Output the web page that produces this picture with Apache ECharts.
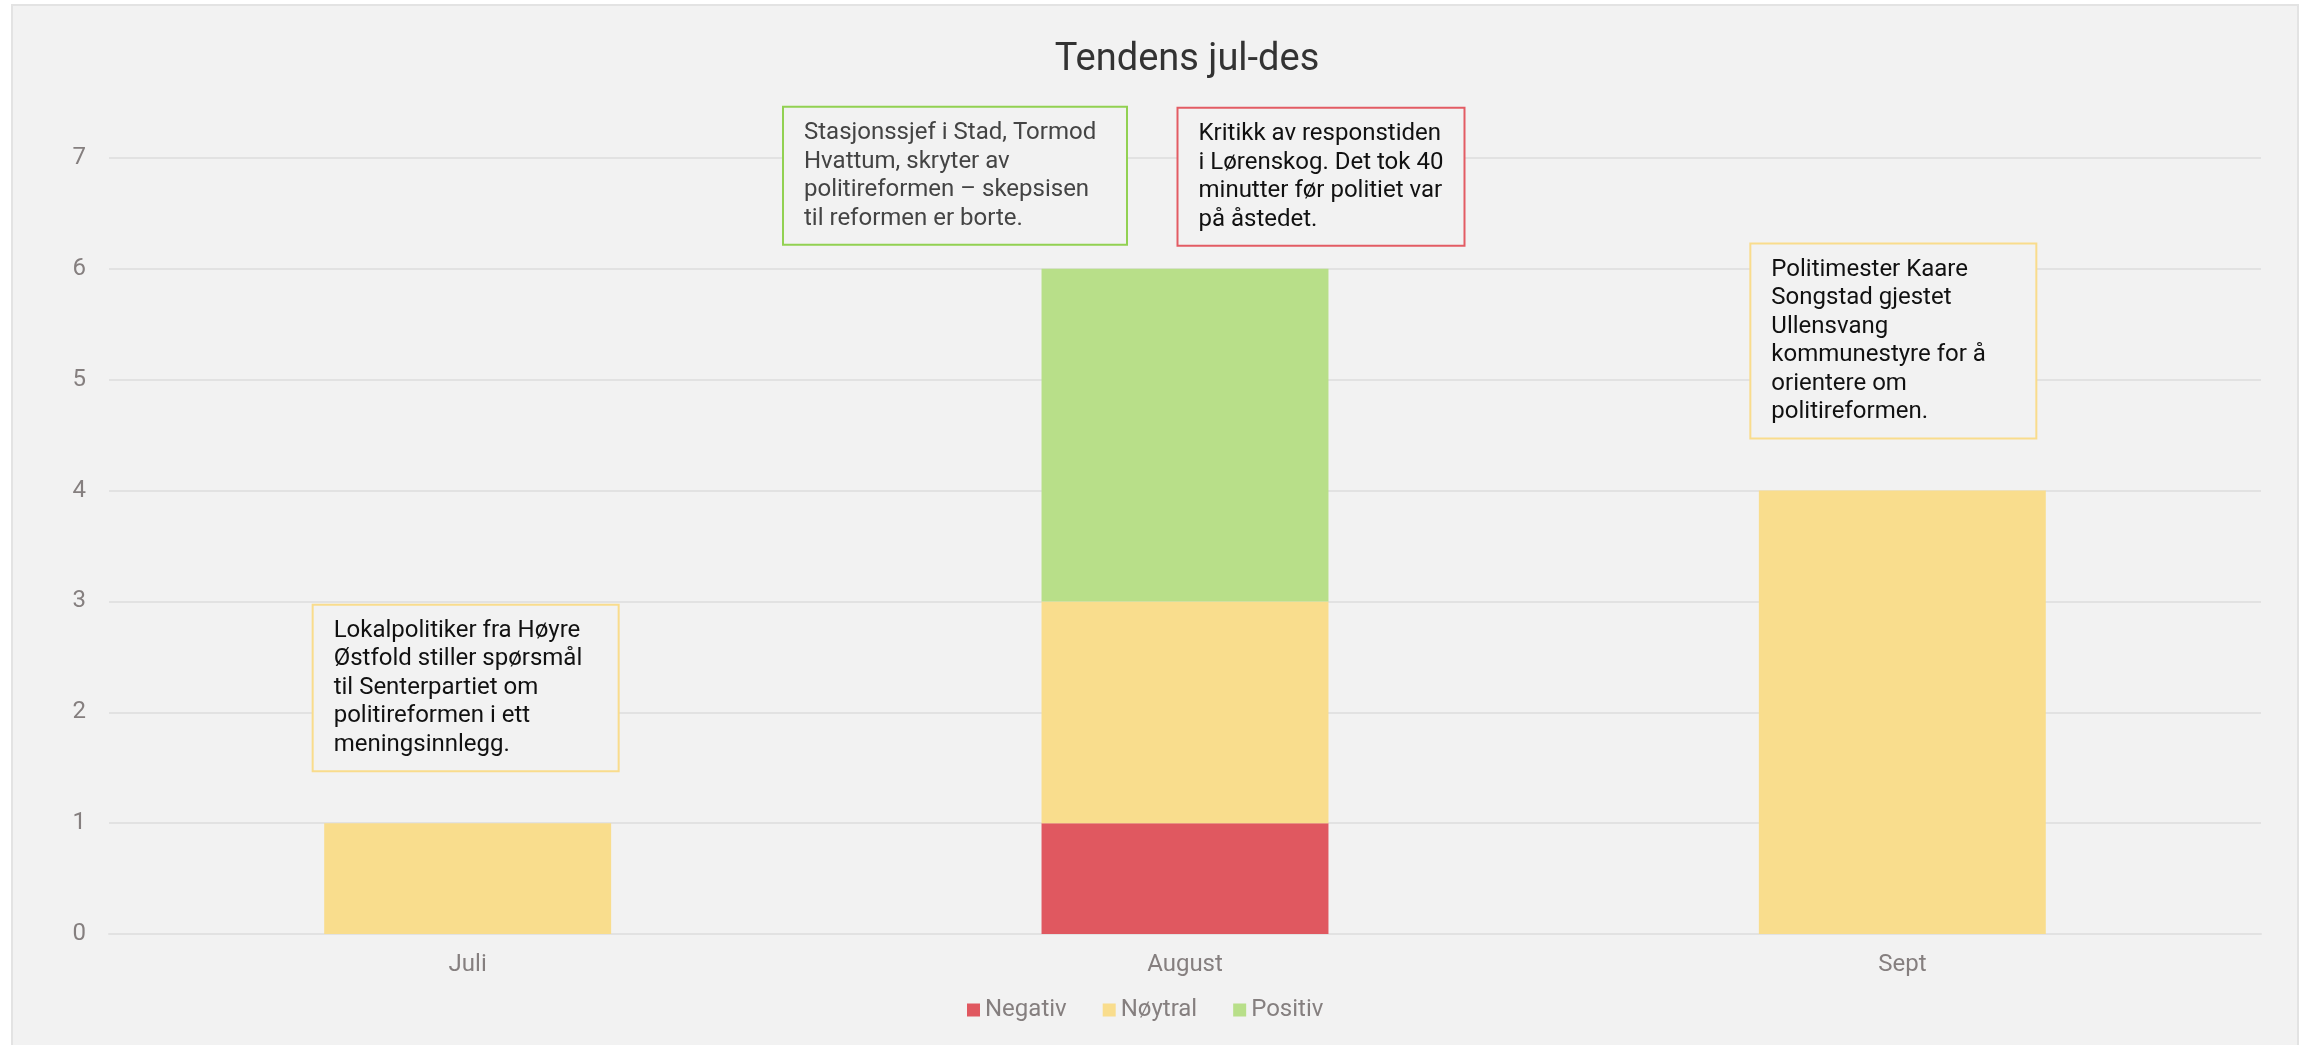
<!DOCTYPE html>
<html>
<head>
<meta charset="utf-8">
<script src="https://cdn.jsdelivr.net/npm/echarts@6/dist/echarts.min.js"></script>
<style>
  html, body { margin: 0; padding: 0; background: #fff; overflow: hidden; }
  #frame { position: absolute; left: 11px; top: 4px; width: 2288px; height: 1060px;
           background: #f2f2f2; border: 2px solid #e3e3e3; box-sizing: border-box; }
  #chart { position: absolute; left: 0; top: 0; width: 2313px; height: 1045px; }
</style>
</head>
<body>
<div id="frame"></div>
<div id="chart"></div>
<script>
// data
const categories = ['Juli', 'August', 'Sept'];
const negativ = [0, 1, 0];
const noytral = [1, 2, 4];
const positiv = [0, 3, 0];

const notes = [
  { cat: 'Juli', kind: 'noytral',
    text: 'Lokalpolitiker fra Høyre\nØstfold stiller spørsmål\ntil Senterpartiet om\npolitireformen i ett\nmeningsinnlegg.' },
  { cat: 'August', kind: 'positiv',
    text: 'Stasjonssjef i Stad, Tormod\nHvattum, skryter av\npolitireformen – skepsisen\ntil reformen er borte.' },
  { cat: 'August', kind: 'negativ',
    text: 'Kritikk av responstiden\ni Lørenskog. Det tok 40\nminutter før politiet var\npå åstedet.' },
  { cat: 'Sept', kind: 'noytral',
    text: 'Politimester Kaare\nSongstad gjestet\nUllensvang\nkommunestyre for å\norientere om\npolitireformen.' }
];

// layout of the note boxes, relative to the top of each stack
const noteLayout = [
  { dx: -2, dy: -53, width: 264, color: '#111' },
  { dx: -230, dy: -25, width: 302, color: '#444' },
  { dx: 136, dy: -24, width: 245, color: '#111' },
  { dx: -9, dy: -53, width: 244, color: '#111' }
];
const PAD = 20;

const colors = { negativ: '#e05860', noytral: '#f9dd8d', positiv: '#b8df89' };
const borders = { negativ: '#e35c64', noytral: '#f9dc8c', positiv: '#92d152' };
const FONT = 'Roboto';

const chart = echarts.init(document.getElementById('chart'));

const option = {
  animation: false,
  backgroundColor: 'transparent',
  textStyle: { fontFamily: FONT },
  title: {
    text: 'Tendens jul-des',
    left: 1182,
    textAlign: 'center',
    top: 36,
    textStyle: { fontFamily: FONT, fontSize: 38, fontWeight: 'normal', color: '#333' }
  },
  legend: {
    left: 962,
    top: 993,
    icon: 'rect',
    itemWidth: 13,
    itemHeight: 13,
    itemGap: 36,
    textStyle: { fontFamily: FONT, fontSize: 24, color: '#857f7f' },
    data: ['Negativ', 'Nøytral', 'Positiv']
  },
  grid: { left: 109, right: 52, top: 158, bottom: 111 },
  xAxis: {
    type: 'category',
    data: categories,
    axisTick: { show: false },
    axisLine: { lineStyle: { color: '#e2e2e2', width: 2 } },
    axisLabel: { fontFamily: FONT, fontSize: 24, color: '#857f7f', margin: 19 }
  },
  yAxis: {
    type: 'value',
    min: 0,
    max: 7,
    interval: 1,
    axisLabel: { fontFamily: FONT, fontSize: 24, color: '#857f7f', margin: 23 },
    splitLine: { lineStyle: { color: '#e2e2e2', width: 2 } }
  },
  series: [
    { name: 'Negativ', type: 'bar', stack: 's', barWidth: '40%', data: negativ,
      itemStyle: { color: colors.negativ } },
    { name: 'Nøytral', type: 'bar', stack: 's', barWidth: '40%', data: noytral,
      itemStyle: { color: colors.noytral } },
    { name: 'Positiv', type: 'bar', stack: 's', barWidth: '40%', data: positiv,
      itemStyle: { color: colors.positiv } }
  ]
};

chart.setOption(option);

// place the note boxes above each stack, text left-aligned inside
const graphics = notes.map((n, i) => {
  const idx = categories.indexOf(n.cat);
  const total = negativ[idx] + noytral[idx] + positiv[idx];
  const p = chart.convertToPixel({ xAxisIndex: 0, yAxisIndex: 0 }, [n.cat, total]);
  const l = noteLayout[i];
  return {
    type: 'text',
    x: p[0] + l.dx - (l.width + 2 * PAD) / 2,
    y: p[1] + l.dy,
    z: 100,
    style: {
      text: n.text,
      font: '24px ' + FONT,
      fill: l.color,
      lineHeight: 28.5,
      width: l.width,
      align: 'left',
      verticalAlign: 'bottom',
      backgroundColor: '#f2f2f2',
      borderColor: borders[n.kind],
      borderWidth: 2,
      padding: [11, PAD, 11, PAD]
    }
  };
});

chart.setOption({ graphic: graphics });
</script>
</body>
</html>
